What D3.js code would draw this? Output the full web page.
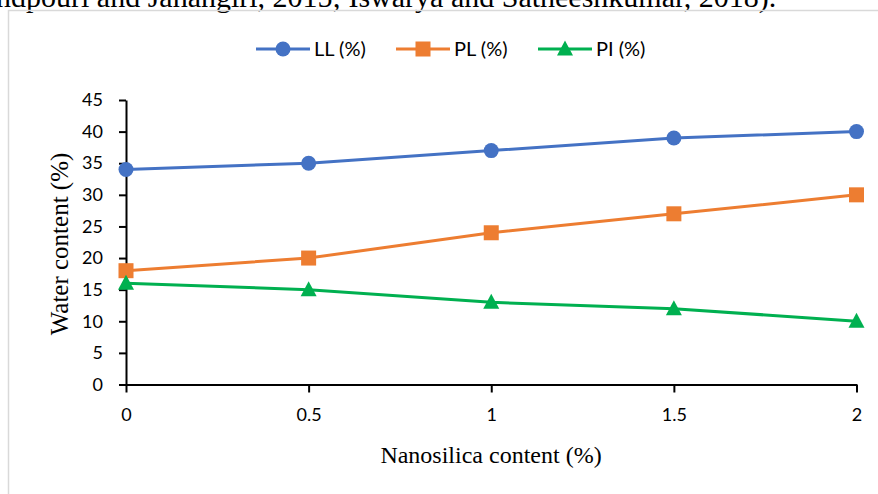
<!DOCTYPE html>
<html>
<head>
<meta charset="utf-8">
<script src="https://cdn.jsdelivr.net/npm/d3@7"></script>
<style>
  body { margin: 0; background: #fff; }
  svg { display: block; }
</style>
</head>
<body>
<svg id="chart" width="878" height="494"></svg>
<script>
const xValues = [0, 0.5, 1, 1.5, 2];
const xTicks = [0, 0.5, 1, 1.5, 2];
const yTicks = [0, 5, 10, 15, 20, 25, 30, 35, 40, 45];
const llValues = [34, 35, 37, 39, 40];
const plValues = [18, 20, 24, 27, 30];
const piValues = [16, 15, 13, 12, 10];

const series = [
  { name: "LL (%)", values: llValues, color: "#4472C4", marker: "circle" },
  { name: "PL (%)", values: plValues, color: "#ED7D31", marker: "square" },
  { name: "PI (%)", values: piValues, color: "#00B050", marker: "triangle" }
];

const svg = d3.select("#chart");
const serif = "'Liberation Serif', 'Times New Roman', serif";
const sans = "Lato, 'Open Sans', sans-serif";

// caption text cut off above the figure
svg.append("text")
  .attr("x", -4)
  .attr("y", 7)
  .style("font-family", serif)
  .style("font-size", "30px")
  .attr("fill", "#000")
  .text("ndpouri and Jahangiri, 2015; Iswarya and Satheeshkumar, 2018).");

// chart frame
svg.append("path")
  .attr("d", "M8.5,494 V10.5 H878")
  .attr("fill", "none")
  .attr("stroke", "#d9d9d9")
  .attr("stroke-width", 1.5);

const xScale = d3.scaleLinear().domain([0, 2]).range([126, 856.5]);
const yScale = d3.scaleLinear().domain([0, 45]).range([384.5, 100]);

// y axis
const yAxis = svg.append("g")
  .attr("transform", "translate(126,0)")
  .call(d3.axisLeft(yScale).tickValues(yTicks).tickSize(7).tickSizeOuter(0).tickPadding(16));
yAxis.select(".domain").attr("stroke", "#000").attr("stroke-width", 2);
yAxis.selectAll(".tick line").attr("stroke", "#000").attr("stroke-width", 2);
yAxis.selectAll(".tick text")
  .style("font-family", sans).style("font-size", "18px").attr("fill", "#000");

// x axis
const xAxis = svg.append("g")
  .attr("transform", "translate(0,384.5)")
  .call(d3.axisBottom(xScale).tickValues(xTicks).tickFormat(d3.format("")).tickSize(8).tickSizeOuter(0).tickPadding(16));
xAxis.select(".domain").attr("stroke", "#000").attr("stroke-width", 2);
xAxis.selectAll(".tick line").attr("stroke", "#000").attr("stroke-width", 2);
xAxis.selectAll(".tick text")
  .style("font-family", sans).style("font-size", "18px").attr("fill", "#000");

// axis titles
svg.append("text")
  .attr("transform", "translate(68,244) rotate(-90)")
  .attr("text-anchor", "middle")
  .style("font-family", serif)
  .style("font-size", "25px")
  .text("Water content (%)");

svg.append("text")
  .attr("x", 491)
  .attr("y", 463)
  .attr("text-anchor", "middle")
  .style("font-family", serif)
  .style("font-size", "24px")
  .text("Nanosilica content (%)");

function drawMarker(g, type, color, x, y) {
  if (type === "circle") {
    g.append("circle").attr("cx", x).attr("cy", y).attr("r", 7.5).attr("fill", color);
  } else if (type === "square") {
    g.append("rect").attr("x", x - 7.5).attr("y", y - 7.5).attr("width", 15).attr("height", 15).attr("fill", color);
  } else {
    g.append("path")
      .attr("d", `M${x},${y - 8.5} L${x + 8},${y + 6.5} L${x - 8},${y + 6.5} Z`)
      .attr("fill", color);
  }
}

const line = d3.line()
  .x((d, i) => xScale(xValues[i]))
  .y(d => yScale(d));

series.forEach(s => {
  const g = svg.append("g");
  g.append("path")
    .datum(s.values)
    .attr("d", line)
    .attr("fill", "none")
    .attr("stroke", s.color)
    .attr("stroke-width", 3);
  s.values.forEach((v, i) => drawMarker(g, s.marker, s.color, xScale(xValues[i]), yScale(v)));
});

// legend
const legendX = [256, 396, 538];
series.forEach((s, i) => {
  const g = svg.append("g").attr("transform", `translate(${legendX[i]},49)`);
  g.append("line").attr("x1", 0).attr("x2", 54).attr("y1", 0).attr("y2", 0)
    .attr("stroke", s.color).attr("stroke-width", 3);
  drawMarker(g, s.marker, s.color, 27, 0);
  g.append("text")
    .attr("x", 58)
    .attr("y", 7)
    .style("font-family", sans)
    .style("font-size", "20px")
    .attr("fill", "#000")
    .text(s.name);
});
</script>
</body>
</html>
